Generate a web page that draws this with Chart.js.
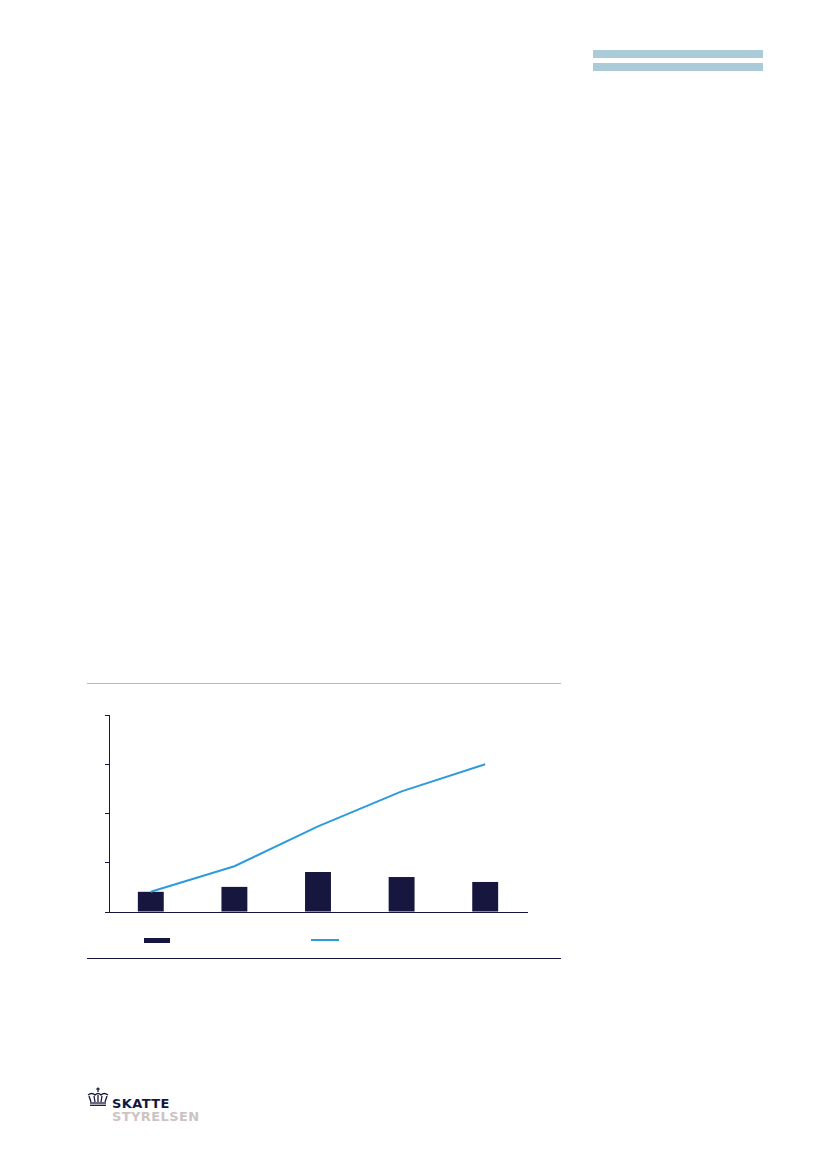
<!DOCTYPE html>
<html lang="da">
<head>
    <meta charset="UTF-8">
    <title>Skattestyrelsen</title>
    <script src="https://cdn.jsdelivr.net/npm/chart.js@4/dist/chart.umd.min.js"></script>
    <style>
        body {
            margin: 0;
            width: 827px;
            height: 1169px;
            background: #ffffff;
            position: relative;
            font-family: "Liberation Sans", Arial, sans-serif;
            overflow: hidden;
        }
        .band {
            position: absolute;
            left: 593px;
            width: 170px;
            height: 8px;
            background: #abcbd8;
        }
        .rule {
            position: absolute;
            left: 87px;
            width: 474px;
        }
        #chartBox {
            position: absolute;
            left: 80px;
            top: 700px;
            width: 460px;
            height: 230px;
        }
        .swatch {
            position: absolute;
        }
        .logo {
            position: absolute;
            left: 86px;
            top: 1087px;
        }
        .logo .word {
            position: absolute;
            left: 26px;
            font-family: "DejaVu Sans", sans-serif;
            font-weight: bold;
            font-size: 13px;
            letter-spacing: 0.4px;
            line-height: 13px;
            white-space: nowrap;
        }
    </style>
</head>
<body>
    <div class="band" style="top:50px"></div>
    <div class="band" style="top:63px"></div>

    <div class="rule" style="top:683px; height:1px; background:#b9b9b9"></div>

    <div id="chartBox">
        <canvas id="chart"></canvas>
    </div>

    <div class="swatch" style="left:144px; top:938px; width:26px; height:5px; background:#16163f"></div>
    <div class="swatch" style="left:311px; top:939px; width:28px; height:2px; background:#2e9bdb"></div>

    <div class="rule" style="top:958px; height:1px; background:#16163f"></div>

    <div class="logo">
        <svg width="24" height="20" viewBox="0 0 24 20">
            <g fill="none" stroke="#16163f" stroke-width="1.3">
                <line x1="12" y1="0.5" x2="12" y2="5"/>
                <line x1="10.3" y1="2" x2="13.7" y2="2"/>
                <path d="M2 8 Q6 5 9 8 Q12 5 15 8 Q18 5 22 8"/>
                <path d="M3 9 L5 15 M8 9 L9 15 M12 8 L12 15 M16 9 L15 15 M21 9 L19 15"/>
                <line x1="4" y1="16" x2="20" y2="16"/>
                <line x1="4" y1="18.3" x2="20" y2="18.3"/>
            </g>
        </svg>
        <div class="word" style="top:10px; color:#16163f">SKATTE</div>
        <div class="word" style="top:23px; color:#cdc3c3">STYRELSEN</div>
    </div>

    <script>
        // Values (no labels are printed in the chart)
        const categories = ['1', '2', '3', '4', '5'];
        const barValues = [0.41, 0.51, 0.81, 0.71, 0.61];
        const lineValues = [0.41, 0.93, 1.74, 2.45, 3.0];
        const yTicks = [0, 1, 2, 3, 4];

        const NAVY = '#16163f';
        const BLUE = '#2e9bdb';

        const ctx = document.getElementById('chart').getContext('2d');

        new Chart(ctx, {
            type: 'bar',
            data: {
                labels: categories,
                datasets: [
                    {
                        type: 'line',
                        label: '',
                        data: lineValues,
                        borderColor: BLUE,
                        borderWidth: 2,
                        pointRadius: 0,
                        tension: 0,
                        fill: false,
                        order: 0
                    },
                    {
                        type: 'bar',
                        label: '',
                        data: barValues,
                        backgroundColor: NAVY,
                        categoryPercentage: 1,
                        barPercentage: 0.31,
                        order: 1
                    }
                ]
            },
            options: {
                responsive: true,
                maintainAspectRatio: false,
                animation: false,
                layout: {
                    padding: { left: 25, right: 13, top: 15, bottom: 18 }
                },
                plugins: {
                    legend: { display: false },
                    tooltip: { enabled: false }
                },
                scales: {
                    x: {
                        grid: { display: false, drawTicks: false },
                        border: { display: true, color: NAVY, width: 1 },
                        ticks: { display: false }
                    },
                    y: {
                        min: yTicks[0],
                        max: yTicks[yTicks.length - 1],
                        afterBuildTicks: function(axis) {
                            axis.ticks = yTicks.map(v => ({ value: v }));
                        },
                        grid: {
                            drawOnChartArea: false,
                            drawTicks: true,
                            tickLength: 4,
                            tickColor: NAVY
                        },
                        border: { display: true, color: NAVY, width: 1 },
                        ticks: { display: false }
                    }
                }
            }
        });
    </script>
</body>
</html>
